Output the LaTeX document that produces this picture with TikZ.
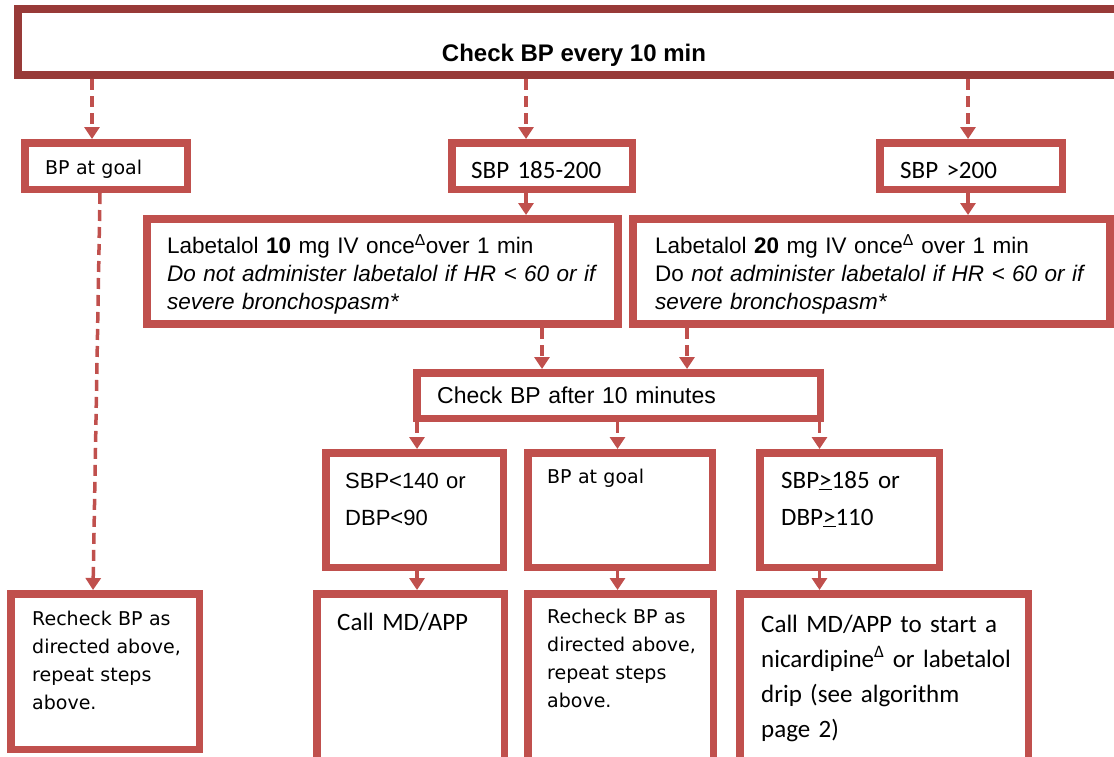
\documentclass[tikz,border=0pt]{standalone}
\usepackage{fontspec}
\setmainfont{Liberation Sans}
\newfontfamily\calfont{Carlito}
\newfontfamily\tahfont{DejaVu Sans}
\usetikzlibrary{arrows.meta}
\definecolor{bred}{RGB}{192,80,77}
\definecolor{dred}{RGB}{152,58,56}
\tikzset{
  box/.style={draw=bred, line width=7.5pt, rectangle, inner sep=0pt, fill=white},
  labbox/.style={box, line width=8pt},
  topbox/.style={draw=dred, line width=8pt, rectangle, inner sep=0pt, fill=white},
  arr/.style={draw=bred, line width=3.5pt, dash pattern=on 11pt off 6pt,
    -{Triangle[width=15pt,length=12pt]}},
  txt/.style={inner sep=0pt, anchor=base west, text width=520pt, align=left},
  arialtxt/.style={txt, font=\fontsize{23}{28}\selectfont},
  caltxt/.style={txt, font=\calfont\fontsize{25}{35}\selectfont},
  tahtxt/.style={txt, font=\tahfont\fontsize{19}{28}\selectfont},
}
\begin{document}
\begin{tikzpicture}[x=1pt,y=-1pt]
\useasboundingbox (0,0) rectangle (1114,756);
% boxes
\node[topbox, minimum width=1132pt, minimum height=66pt] (top) at (584,42) {};
\node[box, minimum width=162.5pt, minimum height=46.5pt] (goalTop) at (106,166) {};
\node[box, minimum width=180.5pt, minimum height=46.5pt] (sbp185) at (542,166) {};
\node[box, minimum width=182.5pt, minimum height=46.5pt] (sbp200) at (971,166) {};
\node[labbox, minimum width=471pt, minimum height=105pt] (lab10) at (382.5,271.5) {};
\node[labbox, minimum width=477pt, minimum height=105pt] (lab20) at (871.5,271.5) {};
\node[box, minimum width=403.5pt, minimum height=45.5pt] (check) at (618.5,395.5) {};
\node[box, minimum width=177.5pt, minimum height=114.5pt] (r3a) at (414.5,510) {};
\node[box, minimum width=184.5pt, minimum height=114.5pt] (r3b) at (620,510) {};
\node[box, minimum width=179.5pt, minimum height=114.5pt] (r3c) at (849.5,510) {};
\node[box, minimum width=188.5pt, minimum height=155.5pt] (recheckL) at (105,671.5) {};
\node[box, minimum width=187.5pt, minimum height=192.5pt] (callMD) at (410.5,690) {};
\node[box, minimum width=185.5pt, minimum height=192.5pt] (recheck2) at (620.5,690) {};
\node[box, minimum width=288.5pt, minimum height=192.5pt] (callStart) at (884,690) {};
% texts
\node[inner sep=0pt, anchor=base, font=\bfseries\fontsize{24}{28}\selectfont] (topT) at (574,61) {Check BP every 10 min};
\node[tahtxt] (goalTopT) at (45,174) {BP at goal};
\node[caltxt] (sbp185T) at (471,178) {SBP 185-200};
\node[caltxt] (sbp200T) at (900,178) {SBP >200};
\node[arialtxt, font=\fontsize{22.5}{28}\selectfont] (lab10T) at (167,253) {Labetalol \textbf{10} mg IV once\textsuperscript{Δ}over 1 min\\
\textit{Do not administer labetalol if HR < 60 or if}\\
\textit{severe bronchospasm*}};
\node[arialtxt, font=\fontsize{22.5}{28}\selectfont] (lab20T) at (655,253) {Labetalol \textbf{20} mg IV once\textsuperscript{Δ} over 1 min\\
Do \textit{not administer labetalol if HR < 60 or if}\\
\textit{severe bronchospasm*}};
\node[arialtxt] (checkT) at (437,403) {Check BP after 10 minutes};
\node[arialtxt, font=\fontsize{22}{37}\selectfont] (r3aT) at (345,488) {SBP<140 or\\DBP<90};
\node[tahtxt] (r3bT) at (547,483) {BP at goal};
\node[caltxt, font=\calfont\fontsize{25}{37}\selectfont] (r3cT) at (781,488) {SBP\underline{>}185 or\\DBP\underline{>}110};
\node[tahtxt] (recheckLT) at (32,625) {Recheck BP as\\directed above,\\repeat steps\\above.};
\node[caltxt] (callMDT) at (337,630) {Call MD/APP};
\node[tahtxt] (recheck2T) at (547,623) {Recheck BP as\\directed above,\\repeat steps\\above.};
\node[caltxt] (callStartT) at (761,632) {Call MD/APP to start a\\nicardipine\textsuperscript{Δ} or labetalol\\drip (see algorithm\\page 2)};
% arrow columns
\coordinate (cA) at (92,0);
\coordinate (cB) at (526,0);
\coordinate (cC) at (968,0);
\coordinate (cD) at (542,0);
\coordinate (cE) at (687,0);
\coordinate (cF) at (417,0);
\coordinate (cG) at (617.5,0);
\coordinate (cH) at (819.5,0);
\coordinate (cI) at (100,0);
\coordinate (cJ) at (93,0);
% connectors
\draw[arr] (cA |- top.south) -- (cA |- goalTop.north);
\draw[arr] (cB |- top.south) -- (cB |- sbp185.north);
\draw[arr] (cC |- top.south) -- (cC |- sbp200.north);
\draw[arr] (cB |- sbp185.south) -- (cB |- lab10.north);
\draw[arr] (cC |- sbp200.south) -- (cC |- lab20.north);
\draw[arr] (cD |- lab10.south) -- (cD |- check.north);
\draw[arr] (cE |- lab20.south) -- (cE |- check.north);
\draw[arr] (cF |- check.south) -- (cF |- r3a.north);
\draw[arr] (cG |- check.south) -- (cG |- r3b.north);
\draw[arr] (cH |- check.south) -- (cH |- r3c.north);
\draw[arr] (cF |- r3a.south) -- (cF |- callMD.north);
\draw[arr] (cG |- r3b.south) -- (cG |- recheck2.north);
\draw[arr] (cH |- r3c.south) -- (cH |- callStart.north);
\draw[arr] (cI |- goalTop.south) -- (cJ |- recheckL.north);
\end{tikzpicture}
\end{document}
